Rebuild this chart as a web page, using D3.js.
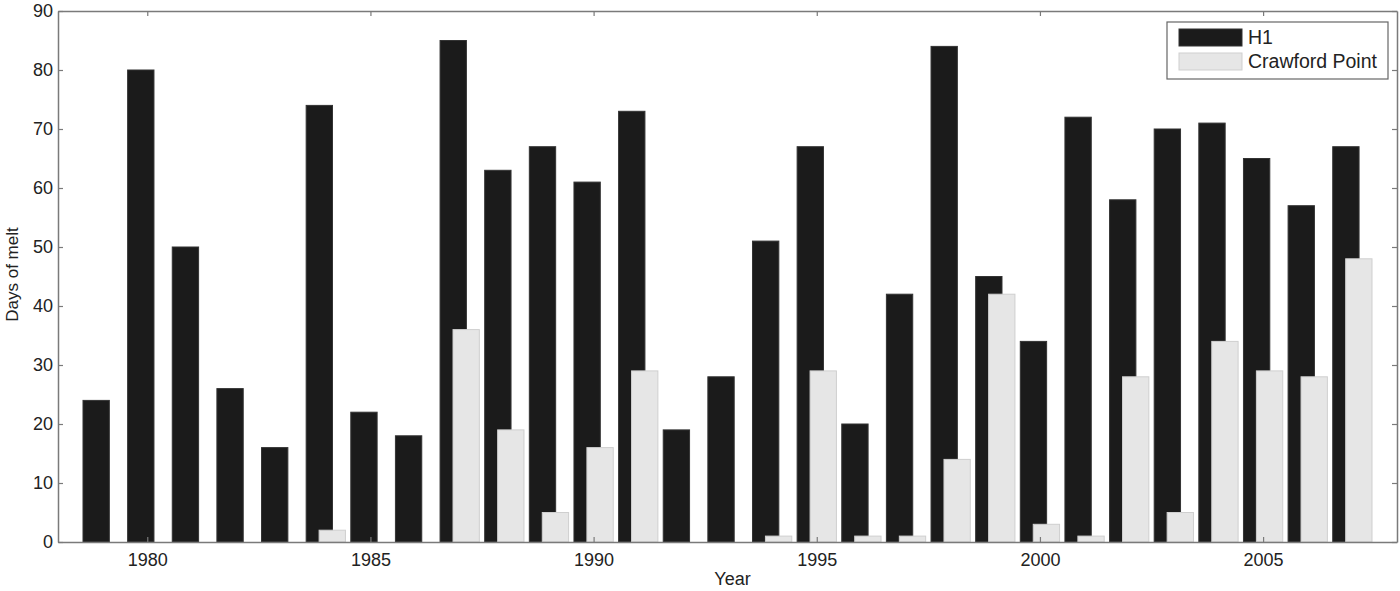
<!DOCTYPE html>
<meta charset="utf-8">
<script src="https://d3js.org/d3.v7.min.js"></script>
<style>
  body { margin: 0; background: #fff; }
  text { font-family: "Liberation Sans", Arial, sans-serif; fill: #222; }
</style>
<div id="my_dataviz"></div>
<script>
  // data
  var years = [1979, 1980, 1981, 1982, 1983, 1984, 1985, 1986, 1987, 1988, 1989, 1990,
               1991, 1992, 1993, 1994, 1995, 1996, 1997, 1998, 1999, 2000, 2001, 2002,
               2003, 2004, 2005, 2006, 2007];
  var h1 = [24, 80, 50, 26, 16, 74, 22, 18, 85, 63, 67, 61,
            73, 19, 28, 51, 67, 20, 42, 84, 45, 34, 72, 58,
            70, 71, 65, 57, 67];
  var crawford = [0, 0, 0, 0, 0, 2, 0, 0, 36, 19, 5, 16,
                  29, 0, 0, 1, 29, 1, 1, 14, 42, 3, 1, 28,
                  5, 34, 29, 28, 48];
  var series = ["H1", "Crawford Point"];
  var xTicks = [1980, 1985, 1990, 1995, 2000, 2005];
  var yTicks = [0, 10, 20, 30, 40, 50, 60, 70, 80, 90];

  var W = 1400, H = 591;
  var margin = {top: 11, right: 3, bottom: 49, left: 58};
  var width = W - margin.left - margin.right,
      height = H - margin.top - margin.bottom;

  var colors = {"H1": "#1b1b1b", "Crawford Point": "#e6e6e6"};
  var edges = {"H1": "#333", "Crawford Point": "#cfcfcf"};

  var svg = d3.select("#my_dataviz")
    .append("svg")
      .attr("width", W)
      .attr("height", H)
    .append("g")
      .attr("transform", "translate(" + margin.left + "," + margin.top + ")");

  var x = d3.scaleLinear().domain([1978, 2008]).range([0, width]);
  var y = d3.scaleLinear().domain([0, 90]).range([height, 0]);

  var offset = 0.145, bw = 0.59;

  var rows = years.map(function(yr, i) { return {year: yr, h1: h1[i], cp: crawford[i]}; });

  // H1 bars (left)
  svg.append("g")
    .selectAll("rect")
    .data(rows)
    .enter()
    .append("rect")
      .attr("x", function(d) { return x(d.year - offset - bw / 2); })
      .attr("width", x(1978 + bw) - x(1978))
      .attr("y", function(d) { return y(d.h1); })
      .attr("height", function(d) { return y(0) - y(d.h1); })
      .attr("fill", colors["H1"])
      .attr("stroke", edges["H1"])
      .attr("stroke-width", 1);

  // Crawford Point bars (right, drawn on top)
  svg.append("g")
    .selectAll("rect")
    .data(rows.filter(function(d) { return d.cp > 0; }))
    .enter()
    .append("rect")
      .attr("x", function(d) { return x(d.year + offset - bw / 2); })
      .attr("width", x(1978 + bw) - x(1978))
      .attr("y", function(d) { return y(d.cp); })
      .attr("height", function(d) { return y(0) - y(d.cp); })
      .attr("fill", colors["Crawford Point"])
      .attr("stroke", edges["Crawford Point"])
      .attr("stroke-width", 1);

  // axes, matlab style box with inward ticks
  function styleAxis(g) {
    g.selectAll("path").attr("stroke", "#7a7a7a").attr("stroke-width", 1.5);
    g.selectAll("line").attr("stroke", "#7a7a7a").attr("stroke-width", 1.2);
    g.selectAll("text").style("font-size", "18px").attr("fill", "#222");
  }

  svg.append("g")
    .attr("transform", "translate(0," + height + ")")
    .call(d3.axisBottom(x).tickValues(xTicks).tickFormat(d3.format("d"))
      .tickSizeInner(-5).tickSizeOuter(0).tickPadding(11))
    .call(styleAxis);

  svg.append("g")
    .call(d3.axisTop(x).tickValues(xTicks).tickFormat("")
      .tickSizeInner(-5).tickSizeOuter(0))
    .call(styleAxis);

  svg.append("g")
    .call(d3.axisLeft(y).tickValues(yTicks)
      .tickSizeInner(-5).tickSizeOuter(0).tickPadding(5))
    .call(styleAxis);

  svg.append("g")
    .attr("transform", "translate(" + width + ",0)")
    .call(d3.axisRight(y).tickValues(yTicks).tickFormat("")
      .tickSizeInner(-5).tickSizeOuter(0))
    .call(styleAxis);

  // axis labels
  svg.append("text")
    .attr("x", width / 2 + 5)
    .attr("y", height + 43)
    .attr("text-anchor", "middle")
    .style("font-size", "18px")
    .text("Year");

  svg.append("text")
    .attr("transform", "translate(" + (-40) + "," + (height / 2 - 2) + ") rotate(-90)")
    .attr("text-anchor", "middle")
    .style("font-size", "17px")
    .text("Days of melt");

  // legend
  var lg = svg.append("g").attr("transform", "translate(" + (1167 - margin.left) + "," + (22 - margin.top) + ")");
  lg.append("rect")
    .attr("width", 221).attr("height", 57)
    .attr("fill", "#fff").attr("stroke", "#666").attr("stroke-width", 1.2);

  lg.selectAll(".item")
    .data(series)
    .enter()
    .append("g")
      .attr("class", "item")
      .attr("transform", function(d, i) { return "translate(12," + (7 + i * 24) + ")"; })
      .each(function(d) {
        var g = d3.select(this);
        g.append("rect")
          .attr("width", 63).attr("height", 17)
          .attr("fill", colors[d]).attr("stroke", edges[d]);
        g.append("text")
          .attr("x", 69).attr("y", 15)
          .style("font-size", "19.5px")
          .text(d);
      });
</script>
